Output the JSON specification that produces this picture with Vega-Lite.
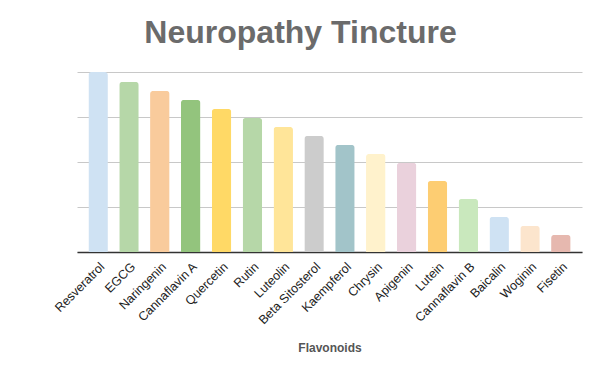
{
  "$schema": "https://vega.github.io/schema/vega-lite/v6.json",
  "autosize": "none",
  "width": 505,
  "height": 180,
  "padding": {"left": 77, "top": 72, "right": 18, "bottom": 119},
  "background": "white",
  "title": {
    "text": "Neuropathy Tincture",
    "font": "Liberation Sans",
    "fontSize": 32,
    "fontWeight": "bold",
    "color": "#6b6b6b",
    "anchor": "middle",
    "dx": -29,
    "baseline": "alphabetic",
    "offset": -3
  },
  "data": {
    "values": [
      {"name": "Resveratrol", "value": 100},
      {"name": "EGCG", "value": 94.5},
      {"name": "Naringenin", "value": 89.5},
      {"name": "Cannaflavin A", "value": 84.5},
      {"name": "Quercetin", "value": 79.5},
      {"name": "Rutin", "value": 74.5},
      {"name": "Luteolin", "value": 69.5},
      {"name": "Beta Sitosterol", "value": 64.5},
      {"name": "Kaempferol", "value": 59.5},
      {"name": "Chrysin", "value": 54.5},
      {"name": "Apigenin", "value": 49.6},
      {"name": "Lutein", "value": 39.5},
      {"name": "Cannaflavin B", "value": 29.5},
      {"name": "Baicalin", "value": 19.5},
      {"name": "Woginin", "value": 14.5},
      {"name": "Fisetin", "value": 9.5}
    ]
  },
  "mark": {"type": "bar", "cornerRadiusTopLeft": 3, "cornerRadiusTopRight": 3},
  "encoding": {
    "x": {
      "field": "name",
      "type": "nominal",
      "sort": null,
      "scale": {"paddingInner": 0.368, "paddingOuter": 0.369},
      "axis": {
        "title": "Flavonoids",
        "titleFont": "Liberation Sans",
        "titleFontSize": 12,
        "titleFontWeight": "bold",
        "titleColor": "#555555",
        "titlePadding": 16,
        "labelAngle": -45,
        "labelFont": "Liberation Sans",
        "labelFontSize": 12.5,
        "labelColor": "#222222",
        "labelPadding": 8,
        "ticks": false,
        "domainColor": "#333333",
        "domainWidth": 1.5
      }
    },
    "y": {
      "field": "value",
      "type": "quantitative",
      "scale": {"domain": [0, 100], "nice": false},
      "axis": {
        "title": null,
        "labels": false,
        "ticks": false,
        "domain": false,
        "values": [0, 25, 50, 75, 100],
        "gridColor": "#c8c8c8",
        "gridWidth": 1
      }
    },
    "color": {
      "field": "name",
      "type": "nominal",
      "legend": null,
      "scale": {
        "domain": ["Resveratrol", "EGCG", "Naringenin", "Cannaflavin A", "Quercetin", "Rutin", "Luteolin", "Beta Sitosterol", "Kaempferol", "Chrysin", "Apigenin", "Lutein", "Cannaflavin B", "Baicalin", "Woginin", "Fisetin"],
        "range": ["#cfe2f3", "#b6d7a8", "#f9cb9c", "#93c47d", "#ffd966", "#b6d7a8", "#ffe599", "#cccccc", "#a2c4c9", "#fff2cc", "#ead1dc", "#fdcd72", "#c9e8bd", "#cfe2f3", "#fce5cd", "#e6b8af"]
      }
    }
  },
  "config": {
    "view": {"stroke": null},
    "axis": {"gridDash": []}
  }
}
